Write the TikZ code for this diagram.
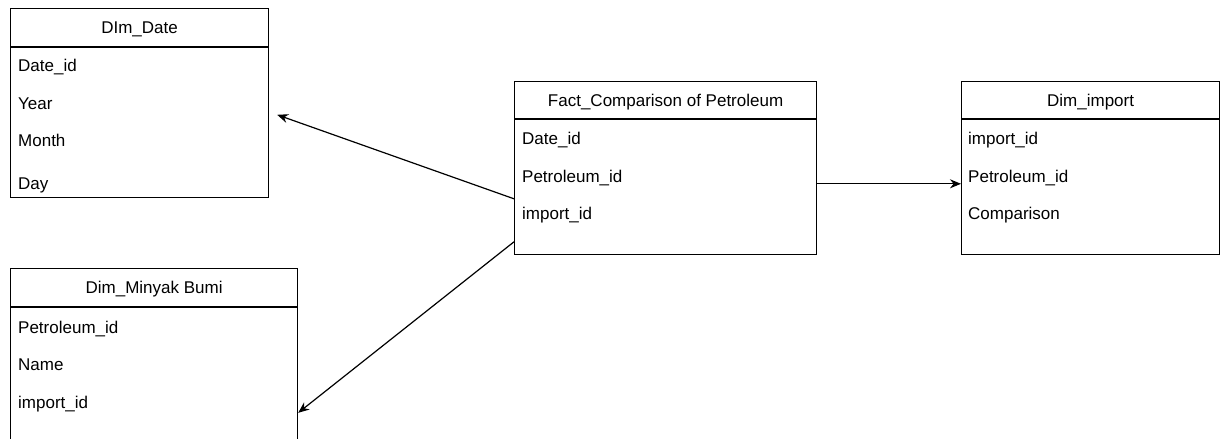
\documentclass[tikz,border=0pt]{standalone}
\usepackage{fontspec}
\setmainfont{Liberation Sans}
\usetikzlibrary{positioning,arrows.meta}

\begin{document}
\begin{tikzpicture}[x=1pt,y=-1pt,
    tablehead/.style={draw, line width=1.2pt, rectangle, anchor=north west, minimum height=38pt,
        text height=12pt, text depth=0pt, font=\fontsize{17}{19}\selectfont},
    tablebody/.style={draw, line width=1.2pt, rectangle, below=0pt of #1, anchor=north},
    field/.style={anchor=west, inner sep=0pt, text height=12pt, text depth=0pt,
        font=\fontsize{17}{19}\selectfont},
    link/.style={line width=1.2pt, -{Stealth[length=11pt,width=9pt]}}]
    \clip (0,0) rectangle (1221,439);

    % dimension: date
    \node [tablehead, minimum width=258pt] (datehead) at (10,8) {DIm\_Date};
    \node [tablebody=datehead, minimum width=258pt, minimum height=150pt] (datebody) {};
    \node [field] (date1) at (18,65) {Date\_id};
    \node [field] (date2) at (18,103) {Year};
    \node [field] (date3) at (18,140) {Month};
    \node [field] (date4) at (18,183) {Day};

    % dimension: minyak bumi
    \node [tablehead, minimum width=287pt] (oilhead) at (10,268) {Dim\_Minyak Bumi};
    \node [tablebody=oilhead, minimum width=287pt, minimum height=150pt] (oilbody) {};
    \node [field] (oil1) at (18,327) {Petroleum\_id};
    \node [field] (oil2) at (18,364) {Name};
    \node [field] (oil3) at (18,402) {import\_id};

    % fact table
    \node [tablehead, minimum width=302pt, minimum height=37pt] (facthead) at (514,81) {Fact\_Comparison of Petroleum};
    \node [tablebody=facthead, minimum width=302pt, minimum height=135pt] (factbody) {};
    \node [field] (fact1) at (522,138) {Date\_id};
    \node [field] (fact2) at (522,176) {Petroleum\_id};
    \node [field] (fact3) at (522,213) {import\_id};

    % dimension: import
    \node [tablehead, minimum width=258pt, minimum height=37pt] (imphead) at (961,81) {Dim\_import};
    \node [tablebody=imphead, minimum width=258pt, minimum height=135pt] (impbody) {};
    \node [field] (imp1) at (968,138) {import\_id};
    \node [field] (imp2) at (968,176) {Petroleum\_id};
    \node [field] (imp3) at (968,213) {Comparison};

    % links
    \coordinate (datetip) at ([xshift=8pt,yshift=8pt]datebody.east);
    \coordinate (oiltip) at ([yshift=-30pt]oilbody.east);
    \draw [link] ([yshift=-11.5pt]factbody.west) -- (datetip);
    \draw [link] ([yshift=-54.5pt]factbody.west) -- (oiltip);
    \draw [link] ([yshift=3.5pt]factbody.east) -- ([yshift=3.5pt]impbody.west);
\end{tikzpicture}
\end{document}
